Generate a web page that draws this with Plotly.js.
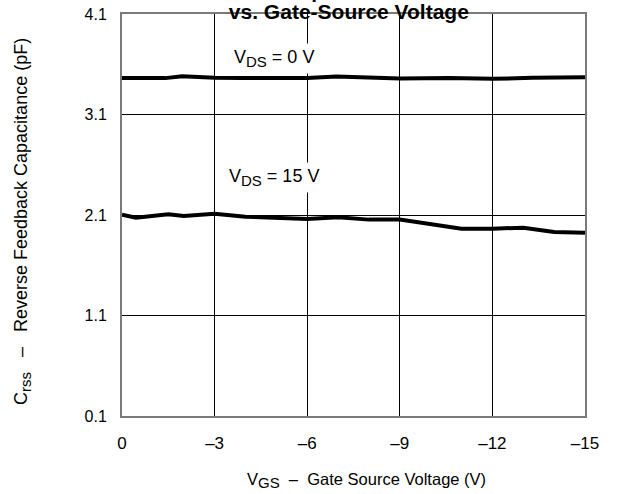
<!DOCTYPE html>
<html>
<head>
<meta charset="utf-8">
<script src="https://cdn.plot.ly/plotly-3.0.1.min.js"></script>
<style>
  html, body { margin: 0; padding: 0; background: #fff; }
  #chart { width: 623px; height: 494px; }
</style>
</head>
<body>
<div id="chart"></div>
<script>
// Reverse feedback capacitance Crss (pF) versus gate-source voltage VGS (V)
const vgsAt0V = [0, -1.4, -1.95, -3, -3.9, -6, -6.95, -9, -10.6, -12, -13.3, -15];
const crssAt0V = [3.462, 3.462, 3.481, 3.465, 3.462, 3.462, 3.478, 3.458, 3.462, 3.455, 3.465, 3.471];

const vgsAt15V = [0, -0.45, -1.5, -2, -3, -4, -6, -7, -8, -9, -11, -12, -13, -14, -15];
const crssAt15V = [2.103, 2.073, 2.107, 2.090, 2.113, 2.083, 2.060, 2.077, 2.054, 2.054, 1.964, 1.964, 1.974, 1.931, 1.924];

const xTicks = [0, -3, -6, -9, -12, -15];
const xTickText = ['0', '\u20133', '\u20136', '\u20139', '\u201312', '\u201315'];
const yTicks = [0.1, 1.1, 2.1, 3.1, 4.1];
const yTickText = ['0.1', '1.1', '2.1', '3.1', '4.1'];

const sub = s => '<sub><span style="font-size:15px">' + s + '</span></sub>';
const seriesLabels = ['V' + sub('DS') + ' = 0 V', 'V' + sub('DS') + ' = 15 V'];
const labelPos = [[-4.94, 3.662], [-4.94, 2.478]];

const FONT = 'Arial, "Liberation Sans", sans-serif';
const NB = '\u00a0';

const lineStyle = { color: '#000', width: 4 };

const traces = [
  { x: vgsAt0V, y: crssAt0V, mode: 'lines', line: lineStyle, hoverinfo: 'skip' },
  { x: vgsAt15V, y: crssAt15V, mode: 'lines', line: lineStyle, hoverinfo: 'skip' }
];

const annotations = seriesLabels.map((t, i) => ({
  x: labelPos[i][0], y: labelPos[i][1], xref: 'x', yref: 'y',
  text: t, showarrow: false, xanchor: 'center', yanchor: 'middle',
  bgcolor: '#fff', borderpad: 3,
  font: { family: FONT, size: 18, color: '#000' }
}));

// upper title line, sitting above the bold subtitle
annotations.push({
  x: 0.484, y: 1, xref: 'paper', yref: 'paper',
  text: 'Reverse Feedback<br>Capacitance', showarrow: false,
  xanchor: 'center', yanchor: 'bottom', yshift: 10,
  font: { family: FONT, size: 21, color: '#000', weight: 'bold' }
});

// axis titles
annotations.push({
  x: (366 - 122) / 463, y: (416 - 480) / 402, xref: 'paper', yref: 'paper',
  text: 'V' + sub('GS') + NB + NB + '\u2013' + NB + NB + 'Gate Source Voltage (V)',
  showarrow: false, xanchor: 'center', yanchor: 'middle',
  font: { family: FONT, size: 16.5, color: '#000' }
});
annotations.push({
  x: (22 - 122) / 463, y: (416 - 222) / 402, xref: 'paper', yref: 'paper',
  text: 'C' + sub('rss') + NB + NB + NB + '\u2013' + NB + NB + NB + 'Reverse Feedback Capacitance (pF)',
  textangle: -90, showarrow: false, xanchor: 'center', yanchor: 'middle',
  font: { family: FONT, size: 18, color: '#000' }
});

const layout = {
  width: 623, height: 494,
  margin: { l: 122, r: 38, t: 14, b: 78 },
  paper_bgcolor: '#fff', plot_bgcolor: '#fff',
  showlegend: false,
  font: { family: FONT, color: '#000' },
  title: {
    text: '<b>vs. Gate-Source Voltage</b>',
    font: { family: FONT, size: 21, color: '#000' },
    xref: 'paper', x: 0.49, xanchor: 'center',
    yref: 'container', y: 1 - 19 / 494, yanchor: 'bottom'
  },
  xaxis: {
    range: [0, -15],
    tickvals: xTicks, ticktext: xTickText,
    tickfont: { family: FONT, size: 17, color: '#000' },
    ticks: 'outside', ticklen: 11, tickcolor: 'rgba(0,0,0,0)',
    showgrid: true, gridcolor: '#000', gridwidth: 1,
    zeroline: false,
    showline: true, linecolor: '#7a7a7a', linewidth: 2, mirror: true
  },
  yaxis: {
    range: [0.1, 4.1],
    tickvals: yTicks, ticktext: yTickText,
    tickfont: { family: FONT, size: 16, color: '#000' },
    ticks: 'outside', ticklen: 10, tickcolor: 'rgba(0,0,0,0)',
    showgrid: true, gridcolor: '#000', gridwidth: 1,
    zeroline: false,
    showline: true, linecolor: '#7a7a7a', linewidth: 2, mirror: true
  },
  annotations: annotations
};

Plotly.newPlot('chart', traces, layout, { displayModeBar: false, staticPlot: true });
</script>
</body>
</html>
